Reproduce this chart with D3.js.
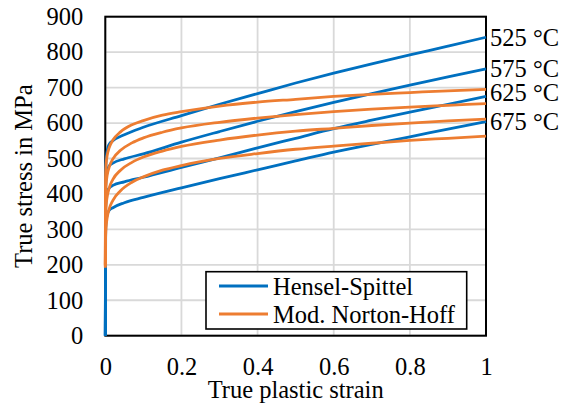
<!DOCTYPE html>
<html><head><meta charset="utf-8">
<script src="https://cdn.jsdelivr.net/npm/d3@7"></script>
<style>
html,body{margin:0;padding:0;background:#fff;}
svg{display:block;}
text{font-family:"Liberation Serif","Times New Roman",serif;fill:#000;}
</style></head>
<body>
<script>
// ---- data ----
const temperatures = ["525 °C", "575 °C", "625 °C", "675 °C"];
const seriesNames = ["Hensel-Spittel", "Mod. Norton-Hoff"];
const xTicks = [0, 0.2, 0.4, 0.6, 0.8, 1];
const xTickLabels = ["0", "0.2", "0.4", "0.6", "0.8", "1"];
const yTicks = [0, 100, 200, 300, 400, 500, 600, 700, 800, 900];

// Hensel-Spittel (blue)
const strainHS = [0, 0.001, 0.003, 0.006, 0.01, 0.02, 0.05, 0.1, 0.2, 0.3, 0.4, 0.5, 0.6, 0.7, 0.8, 0.9, 1];
const hs525 = [0, 470, 505, 528, 540, 550, 567, 588, 621, 653, 683, 713, 741, 767, 792, 817, 842];
const hs575 = [0, 420, 450, 468, 479, 487, 499, 513, 546, 576, 605, 632, 658, 683, 707, 730, 753];
const hs625 = [0, 360, 392, 408, 416, 424, 434, 447, 475, 502, 530, 557, 584, 608, 631, 653, 675];
const hs675 = [0, 300, 330, 345, 353, 361, 375, 390, 417, 443, 468, 493, 518, 540, 561, 583, 604];

// Modified Norton-Hoff (orange)
const strainNH = [0, 0.0005, 0.002, 0.005, 0.01, 0.02, 0.04, 0.07, 0.1, 0.15, 0.2, 0.3, 0.4, 0.5, 0.6, 0.7, 0.8, 0.9, 1];
const nh525 = [200, 445, 482, 509, 530, 552, 575, 595, 607, 622, 632, 648, 659, 667, 675, 681, 686, 691, 695];
const nh575 = [198, 386, 425, 453, 475, 499, 523, 544, 558, 574, 586, 602, 614, 624, 632, 639, 645, 650, 655];
const nh625 = [195, 324, 363, 392, 416, 441, 467, 489, 504, 521, 534, 552, 566, 577, 585, 593, 600, 606, 611];
const nh675 = [192, 265, 304, 333, 357, 382, 409, 433, 448, 467, 480, 500, 514, 526, 535, 543, 551, 557, 563];

const hsSeries = [hs525, hs575, hs625, hs675];
const nhSeries = [nh525, nh575, nh625, nh675];

// ---- layout ----
const W = 567, H = 405;
const plot = {left: 105.3, right: 486, top: 16.7, bottom: 335.7};
const blue = "#0070C0", orange = "#ED7D31";
const fs = 24.5;

const svg = d3.select("body").append("svg").attr("width", W).attr("height", H);

const x = d3.scaleLinear().domain([0, 1]).range([plot.left, plot.right]);
const y = d3.scaleLinear().domain([0, 900]).range([plot.bottom, plot.top]);

// gridlines
svg.append("g").selectAll("line.h").data(yTicks).join("line")
  .attr("x1", plot.left).attr("x2", plot.right)
  .attr("y1", d => y(d)).attr("y2", d => y(d))
  .attr("stroke", "#d9d9d9").attr("stroke-width", 1.8);
svg.append("g").selectAll("line.v").data(xTicks).join("line")
  .attr("y1", plot.top).attr("y2", plot.bottom)
  .attr("x1", d => x(d)).attr("x2", d => x(d))
  .attr("stroke", "#d9d9d9").attr("stroke-width", 1.8);

// plot border
svg.append("rect").attr("x", plot.left).attr("y", plot.top)
  .attr("width", plot.right - plot.left).attr("height", plot.bottom - plot.top)
  .attr("fill", "none").attr("stroke", "#000").attr("stroke-width", 2);

// axes (labels only)
const yAxis = d3.axisLeft(y).tickValues(yTicks).tickSize(0).tickPadding(22);
const gy = svg.append("g").attr("transform", `translate(${plot.left},0)`).call(yAxis);
gy.select(".domain").remove();
gy.selectAll("text").style("font-size", fs + "px").style("font-family", '"Liberation Serif",serif');

const xAxis = d3.axisBottom(x).tickValues(xTicks).tickFormat((d, i) => xTickLabels[i]).tickSize(0).tickPadding(22);
const gx = svg.append("g").attr("transform", `translate(0,${plot.bottom})`).call(xAxis);
gx.select(".domain").remove();
gx.selectAll("text").style("font-size", fs + "px").style("font-family", '"Liberation Serif",serif');

// axis titles
svg.append("text").attr("x", (plot.left + plot.right) / 2).attr("y", 398)
  .attr("text-anchor", "middle").style("font-size", fs + "px").text("True plastic strain");
svg.append("text").attr("transform", `translate(32,${(plot.top + plot.bottom) / 2}) rotate(-90)`)
  .attr("text-anchor", "middle").style("font-size", fs + "px").text("True stress in MPa");

// lines
const line = d3.line().curve(d3.curveMonotoneX);
const gLines = svg.append("g");
hsSeries.forEach(vals => {
  gLines.append("path")
    .attr("d", line(strainHS.map((s, i) => [x(s), y(vals[i])])))
    .attr("fill", "none").attr("stroke", blue).attr("stroke-width", 2.8)
    .attr("stroke-linejoin", "round");
});
nhSeries.forEach(vals => {
  gLines.append("path")
    .attr("d", line(strainNH.map((s, i) => [x(s), y(vals[i])])))
    .attr("fill", "none").attr("stroke", orange).attr("stroke-width", 2.8)
    .attr("stroke-linejoin", "round");
});

// temperature labels at line ends
const labelNudge = [0, 0, -4, 0];
temperatures.forEach((t, i) => {
  const v = hsSeries[i][hsSeries[i].length - 1];
  svg.append("text").attr("x", plot.right + 4).attr("y", y(v) + labelNudge[i])
    .attr("dy", "0.35em").style("font-size", fs + "px").text(t);
});

// legend
const lg = svg.append("g");
lg.append("rect").attr("x", 206).attr("y", 271.7).attr("width", 260.7).attr("height", 57.3)
  .attr("fill", "#fff").attr("stroke", "#000").attr("stroke-width", 1.6);
[blue, orange].forEach((c, i) => {
  const yy = 286 + i * 28;
  lg.append("line").attr("x1", 219).attr("x2", 268).attr("y1", yy).attr("y2", yy)
    .attr("stroke", c).attr("stroke-width", 2.8);
  lg.append("text").attr("x", 273).attr("y", yy).attr("dy", "0.35em")
    .style("font-size", fs + "px").text(seriesNames[i]);
});
</script>
</body></html>
